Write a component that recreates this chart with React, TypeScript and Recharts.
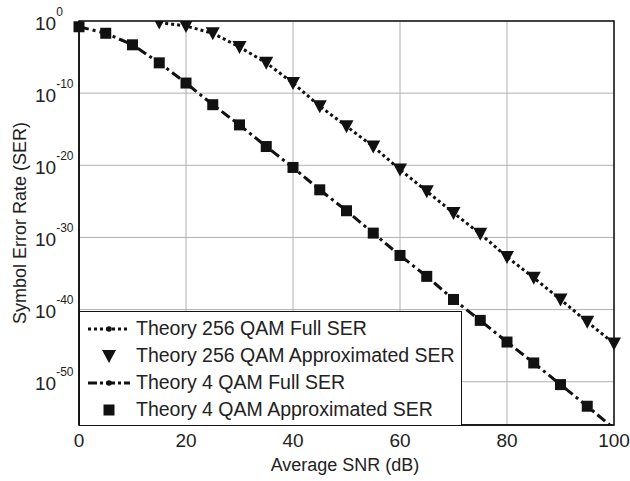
import React from "react"
import { LineChart, Line, XAxis, YAxis, CartesianGrid, ReferenceArea, Legend } from "recharts"

const snr = [0, 5, 10, 15, 20, 25, 30, 35, 40, 45, 50, 55, 60, 65, 70, 75, 80, 85, 90, 95, 100]
const qam256Full = [null, null, null, -0.2, -0.7, -1.7, -3.6, -5.8, -8.6, -11.8, -14.6, -17.4, -20.6, -23.6, -26.6, -29.5, -32.7, -35.6, -38.6, -41.7, -44.7]
const qam256Approx = [null, null, null, -0.2, -0.7, -1.7, -3.6, -5.8, -8.6, -11.8, -14.6, -17.4, -20.6, -23.6, -26.6, -29.5, -32.7, -35.6, -38.6, -41.7, -44.7]
const qam4Full = [-0.8, -1.7, -3.3, -5.8, -8.6, -11.6, -14.4, -17.4, -20.3, -23.4, -26.3, -29.4, -32.5, -35.4, -38.6, -41.5, -44.5, -47.4, -50.4, -53.4, -56.5]
const qam4Approx = [-0.8, -1.7, -3.3, -5.8, -8.6, -11.6, -14.4, -17.4, -20.3, -23.4, -26.3, -29.4, -32.5, -35.4, -38.6, -41.5, -44.5, -47.4, -50.4, -53.4, null]

const xTicks = [0, 20, 40, 60, 80, 100]
const yTicks = [1e0, 1e-10, 1e-20, 1e-30, 1e-40, 1e-50]
const yDomain = [1e-56, 1]

const labels = [
  "Theory 256 QAM Full SER",
  "Theory 256 QAM Approximated SER",
  "Theory 4 QAM Full SER",
  "Theory 4 QAM Approximated SER",
]

const pow = (e: number | null) => (e === null ? undefined : Math.pow(10, e))

const data = snr.map((x, i) => ({
  snr: x,
  full256: pow(qam256Full[i]),
  approx256: pow(qam256Approx[i]),
  full4: pow(qam4Full[i]),
  approx4: pow(qam4Approx[i]),
}))

const INK = "#111"
const TEXT = "#222"
const FONT = "'Liberation Sans', Arial, Helvetica, sans-serif"
const DOTTED = "3 3"
const DASHDOT = "10 4 3 4"

const TriangleDot = (props: any) => {
  const { cx, cy, index } = props
  if (cx == null || cy == null || isNaN(cy)) return <g key={`t-${index}`} />
  return <path key={`t-${index}`} d={`M${cx - 7},${cy - 6} L${cx + 7},${cy - 6} L${cx},${cy + 7} Z`} fill={INK} />
}

const SquareDot = (props: any) => {
  const { cx, cy, index } = props
  if (cx == null || cy == null || isNaN(cy)) return <g key={`s-${index}`} />
  return <rect key={`s-${index}`} x={cx - 5.5} y={cy - 5.5} width={11} height={11} fill={INK} />
}

const YTick = (props: any) => {
  const { y, payload } = props
  const exp = Math.round(Math.log10(payload.value))
  return (
    <text x={35} y={y + 8.5} fontSize={19} fill={TEXT} fontFamily={FONT}>
      10
      <tspan fontSize={12} dy={-14}>{exp}</tspan>
    </text>
  )
}

const LegendBox = () => {
  const sample = (i: number) => {
    if (i === 0)
      return (
        <>
          <line x1={0} y1={10} x2={42} y2={10} stroke={INK} strokeWidth={3} strokeDasharray={DOTTED} />
          <circle cx={21} cy={10} r={2.8} fill={INK} />
        </>
      )
    if (i === 1) return <path d="M14,4 L28,4 L21,17 Z" fill={INK} />
    if (i === 2)
      return (
        <>
          <line x1={0} y1={10} x2={42} y2={10} stroke={INK} strokeWidth={3} strokeDasharray="9 3 3 3" />
          <circle cx={21} cy={10} r={2.8} fill={INK} />
        </>
      )
    return <rect x={15.5} y={4.5} width={11} height={11} fill={INK} />
  }
  return (
    <div
      style={{
        width: 383,
        height: 115,
        boxSizing: "border-box",
        border: `1.5px solid ${INK}`,
        background: "#fff",
        paddingTop: 3,
        fontFamily: FONT,
      }}
    >
      {labels.map((lab, i) => (
        <div key={lab} style={{ display: "flex", alignItems: "center", height: 27, whiteSpace: "nowrap" }}>
          <svg width={42} height={20} style={{ marginLeft: 8, marginRight: 6, overflow: "visible" }}>
            {sample(i)}
          </svg>
          <span style={{ fontSize: 19.5, color: TEXT }}>{lab}</span>
        </div>
      ))}
    </div>
  )
}

export default function App() {
  return (
    <div style={{ position: "absolute", left: 0, top: 0, width: 630, height: 481, background: "#fff" }}>
      <LineChart width={630} height={481} data={data} margin={{ top: 21, right: 16, bottom: 16, left: 0 }}>
        <CartesianGrid stroke="#b0b0b0" strokeWidth={1} />
        <XAxis
          dataKey="snr"
          type="number"
          domain={[0, 100]}
          ticks={xTicks}
          height={40}
          tickLine={false}
          axisLine={{ stroke: INK, strokeWidth: 1.5 }}
          tickMargin={3}
          tick={{ fontSize: 19, fill: TEXT, fontFamily: FONT }}
          label={{
            content: () => (
              <text x={345} y={471} textAnchor="middle" fontSize={18} fill={TEXT} fontFamily={FONT}>
                Average SNR (dB)
              </text>
            ),
          }}
        />
        <YAxis
          scale="log"
          type="number"
          domain={yDomain}
          allowDataOverflow
          ticks={yTicks}
          width={79}
          tickLine={false}
          axisLine={{ stroke: INK, strokeWidth: 1.5 }}
          tick={YTick}
          label={{
            content: () => (
              <text
                x={26}
                y={223}
                transform="rotate(-90 26 223)"
                textAnchor="middle"
                fontSize={18}
                fill={TEXT}
                fontFamily={FONT}
              >
                Symbol Error Rate (SER)
              </text>
            ),
          }}
        />
        <ReferenceArea x1={0} x2={100} y1={1e-56} y2={1} fill="none" stroke={INK} strokeWidth={1.5} ifOverflow="extendDomain" />
        <Line dataKey="full256" stroke={INK} strokeWidth={3} strokeDasharray={DOTTED} dot={false} isAnimationActive={false} />
        <Line dataKey="approx256" stroke="none" dot={TriangleDot} activeDot={false} isAnimationActive={false} />
        <Line dataKey="full4" stroke={INK} strokeWidth={3} strokeDasharray={DASHDOT} dot={false} isAnimationActive={false} />
        <Line dataKey="approx4" stroke="none" dot={SquareDot} activeDot={false} isAnimationActive={false} />
        <Legend
          layout="vertical"
          align="center"
          verticalAlign="middle"
          content={LegendBox}
          wrapperStyle={{ left: 79, top: 311, width: 383, height: 115 }}
        />
      </LineChart>
    </div>
  )
}
